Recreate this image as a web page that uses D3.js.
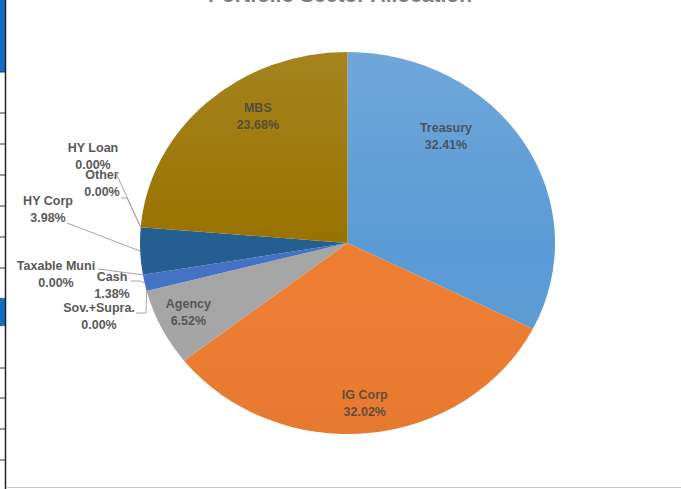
<!DOCTYPE html>
<html>
<head>
<meta charset="utf-8">
<script src="https://cdn.jsdelivr.net/npm/d3@7"></script>
<style>
  body { margin: 0; background: #fff; }
  svg { display: block; font-family: "Liberation Sans", Arial, sans-serif; }
</style>
</head>
<body>
<div id="chart"></div>
<script>
// portfolio sector weights, clockwise from 12 o'clock
var sectors = ["Treasury", "IG Corp", "Agency", "Sov.+Supra.", "Cash", "Taxable Muni", "HY Corp", "Other", "HY Loan", "MBS"];
var weights = [32.41, 32.02, 6.52, 0.00, 1.38, 0.00, 3.98, 0.00, 0.00, 23.68];
var colors = ["#5b9bd5", "#ed7d31", "#a5a5a5", "#ffc000", "#4472c4", "#70ad47", "#255e91", "#9e480e", "#636363", "#997300"];

var width = 681, height = 489
var cx = 347.5, cy = 243, rx = 207.5, ry = 191

var svg = d3.select("#chart")
  .append("svg")
  .attr("width", width)
  .attr("height", height)

// bits of the spreadsheet grid showing on the left
var gridRows = [72, 113, 144, 175, 206, 237, 268, 368, 398, 429, 460]
svg.append("rect").attr("x", 0).attr("y", 0).attr("width", 5).attr("height", 72).attr("fill", "#0f6fc6")
svg.append("rect").attr("x", 0).attr("y", 298).attr("width", 5).attr("height", 28).attr("fill", "#0f6fc6")
svg.selectAll(".row")
  .data(gridRows)
  .enter()
  .append("line")
  .attr("x1", 0).attr("x2", 5)
  .attr("y1", d => d).attr("y2", d => d)
  .attr("stroke", "#333").attr("stroke-width", 1)
svg.append("line").attr("x1", 5.5).attr("x2", 5.5).attr("y1", 0).attr("y2", 489)
  .attr("stroke", "#222").attr("stroke-width", 1.5)
svg.append("line").attr("x1", 6).attr("x2", width).attr("y1", 487.5).attr("y2", 487.5)
  .attr("stroke", "#c8c8c8").attr("stroke-width", 1)

// title, cut off at the top
svg.append("text")
  .attr("x", 340).attr("y", 2)
  .attr("text-anchor", "middle")
  .attr("font-size", 21).attr("font-weight", "bold")
  .attr("fill", "#7f7f7f")
  .text("Portfolio Sector Allocation")

var pie = d3.pie().sort(null).value(d => d.value)
var data = pie(sectors.map((s, i) => ({ name: s, value: weights[i], color: colors[i] })))

var arc = d3.arc().innerRadius(0).outerRadius(ry)

var defs = svg.append("defs")
var shade = defs.append("linearGradient").attr("id", "shade").attr("x1", 0).attr("y1", 0).attr("x2", 0).attr("y2", 1)
shade.append("stop").attr("offset", "0%").attr("stop-color", "#fff").attr("stop-opacity", 0.12)
shade.append("stop").attr("offset", "50%").attr("stop-color", "#fff").attr("stop-opacity", 0)
shade.append("stop").attr("offset", "100%").attr("stop-color", "#000").attr("stop-opacity", 0.03)

var g = svg.append("g")
  .attr("transform", `translate(${cx},${cy}) scale(${rx / ry},1)`)

g.selectAll("path")
  .data(data)
  .enter()
  .append("path")
  .attr("d", arc)
  .attr("fill", d => d.data.color)

g.append("circle").attr("r", ry).attr("fill", "url(#shade)")

// point on the pie rim at a given angle, in page coordinates
function rim(a) {
  return [cx + rx * Math.sin(a), cy - ry * Math.cos(a)]
}

// labels inside the slices: radius and angle offset (deg) used by the chart
var insideLabels = {
  "Treasury": { r: 140, da: -18 },
  "MBS": { r: 151, da: 9.5 },
  "IG Corp": { r: 161, da: 0 },
  "Agency": { r: 162, da: 1 }
}

var fontSize = 12.5
var lineH = 17
data.filter(d => insideLabels[d.data.name]).forEach(function (d) {
  var o = insideLabels[d.data.name]
  var a = (d.startAngle + d.endAngle) / 2 + o.da * Math.PI / 180
  var x = cx + o.r * (rx / ry) * Math.sin(a)
  var y = cy - o.r * Math.cos(a)
  var t = svg.append("text")
    .attr("text-anchor", "middle")
    .attr("font-size", fontSize).attr("font-weight", "bold")
    .attr("fill", "#404040").attr("fill-opacity", 0.8)
  t.append("tspan").attr("x", x).attr("y", y - lineH / 2 + 4).text(d.data.name)
  t.append("tspan").attr("x", x).attr("y", y + lineH / 2 + 4).text(d.value.toFixed(2) + "%")
})

// labels outside with leader lines: text centre and the line's start (and elbow)
var outsideLabels = {
  "HY Loan": { x: 93, y: 148, from: [[116, 173]] },
  "Other": { x: 102, y: 175, from: [[121, 198], [127, 198]] },
  "HY Corp": { x: 48, y: 201, from: [[67, 223]] },
  "Taxable Muni": { x: 56, y: 266, from: [[98, 269]] },
  "Cash": { x: 112, y: 277, from: [[131, 281], [140, 281]] },
  "Sov.+Supra.": { x: 99, y: 308, from: [[136, 313], [146, 313]] }
}

data.filter(d => outsideLabels[d.data.name]).forEach(function (d) {
  var o = outsideLabels[d.data.name]
  var end = rim((d.startAngle + d.endAngle) / 2)
  svg.append("path")
    .attr("d", d3.line()(o.from.concat([end])))
    .attr("fill", "none")
    .attr("stroke", "#a6a6a6")
    .attr("stroke-width", 1)
  var t = svg.append("text")
    .attr("text-anchor", "middle")
    .attr("font-size", fontSize).attr("font-weight", "bold")
    .attr("fill", "#595959")
  t.append("tspan").attr("x", o.x).attr("y", o.y + 4).text(d.data.name)
  t.append("tspan").attr("x", o.x).attr("y", o.y + lineH + 4).text(d.value.toFixed(2) + "%")
})
</script>
</body>
</html>
